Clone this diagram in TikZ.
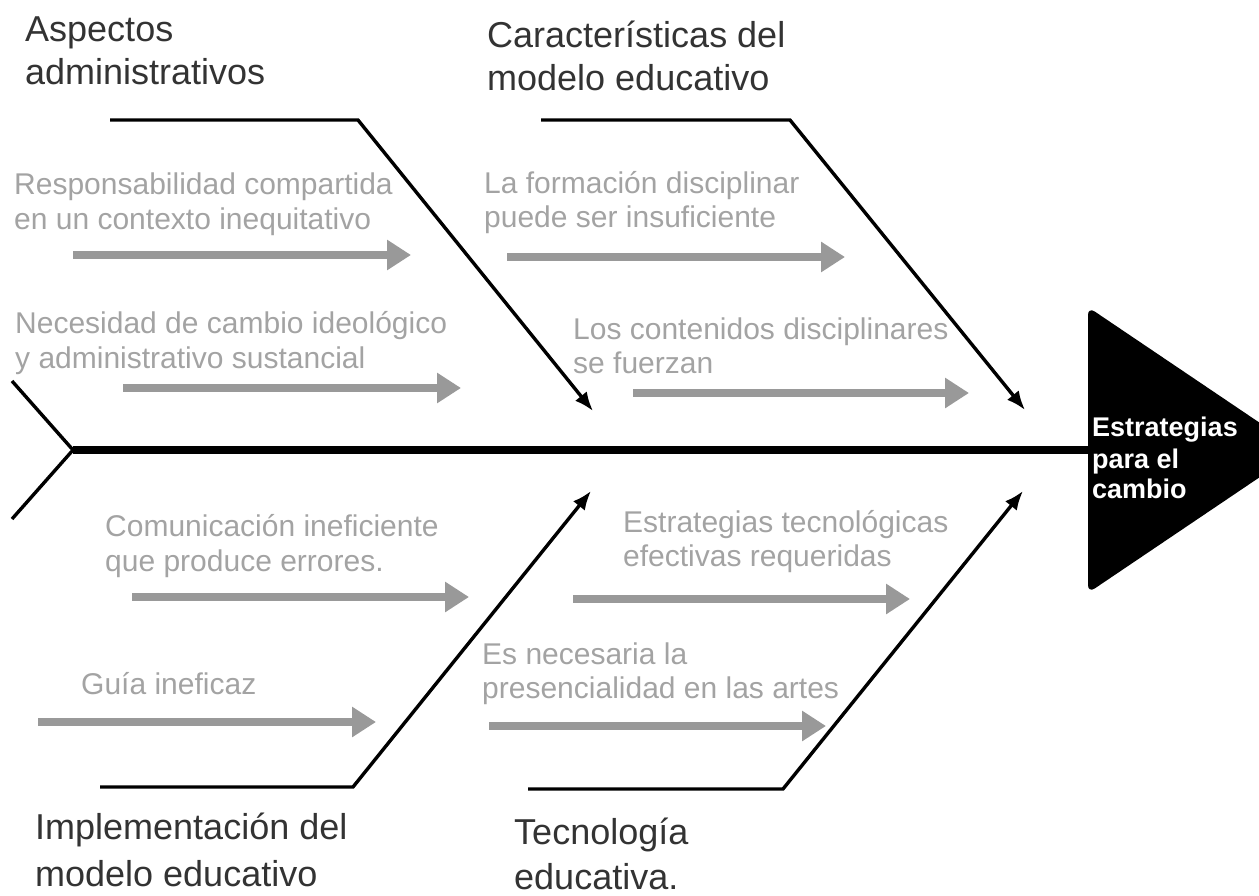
\documentclass[tikz,border=0pt]{standalone}
\usepackage{fontspec}
\setmainfont{Liberation Sans}
\usetikzlibrary{arrows.meta}
\definecolor{titlegrey}{HTML}{333333}
\definecolor{causegrey}{HTML}{A3A3A3}
\definecolor{arrowgrey}{HTML}{999999}
\begin{document}
\begin{tikzpicture}[x=1pt,y=-1pt,
  titletext/.style={font=\fontsize{36}{43}\selectfont, text=titlegrey, anchor=base west, inner sep=0pt},
  causetext/.style={font=\fontsize{30}{35}\selectfont, text=causegrey, anchor=base west, inner sep=0pt},
  headtext/.style={font=\bfseries\fontsize{27}{31}\selectfont, text=white, anchor=base west, inner sep=0pt},
  bone/.style={line width=3.4pt, -{Latex[length=19pt,width=15pt]}},
  subarrow/.style={draw=arrowgrey, line width=7.5pt, -{Triangle[length=24pt,width=29pt]}}]
\useasboundingbox (0,0) rectangle (1259,896);
\clip (0,0) rectangle (1259,896);

% head and spine
\fill[rounded corners=8pt] (1088,307) -- (1300,450) -- (1088,593) -- cycle;
\coordinate (tail) at (73,450);
\coordinate (tailtop) at (12,381);
\coordinate (tailbot) at (12,519);
\coordinate (headleft) at (1090,450);
\draw[line width=3.4pt] (tailtop) -- (tail) -- (tailbot);
\draw[line width=8pt] (tail) -- (headleft);

\node[headtext] (h1) at (1092,436) {Estrategias};
\node[headtext] (h2) at (1092,468) {para el};
\node[headtext] (h3) at (1092,498) {cambio};

% main bones
\coordinate (A0) at (110,120); \coordinate (A1) at (358,120); \coordinate (A2) at (593,411);
\coordinate (B0) at (541,120); \coordinate (B1) at (790,120); \coordinate (B2) at (1025,410);
\coordinate (C0) at (100,787); \coordinate (C1) at (353,787); \coordinate (C2) at (591,491);
\coordinate (D0) at (528,789); \coordinate (D1) at (783,789); \coordinate (D2) at (1023,491);
\draw[bone] (A0) -- (A1) -- (A2);
\draw[bone] (B0) -- (B1) -- (B2);
\draw[bone] (C0) -- (C1) -- (C2);
\draw[bone] (D0) -- (D1) -- (D2);

% titles
\node[titletext] (ta1) at (25,42) {Aspectos};
\node[titletext] (ta2) at (25,85) {administrativos};
\node[titletext] (tb1) at (487,48) {Características del};
\node[titletext] (tb2) at (487,91) {modelo educativo};
\node[titletext] (tc1) at (35,839) {Implementación del};
\node[titletext] (tc2) at (35,886) {modelo educativo};
\node[titletext] (td1) at (514,844) {Tecnología};
\node[titletext] (td2) at (514,889) {educativa.};

% causes
\node[causetext] (c1a) at (14,195) {Responsabilidad compartida};
\node[causetext] (c1b) at (14,230) {en un contexto inequitativo};
\node[causetext] (c2a) at (15,333) {Necesidad de cambio ideológico};
\node[causetext] (c2b) at (15,368) {y administrativo sustancial};
\node[causetext] (c3a) at (484,194) {La formación disciplinar};
\node[causetext] (c3b) at (484,228) {puede ser insuficiente};
\node[causetext] (c4a) at (573,339) {Los contenidos disciplinares};
\node[causetext] (c4b) at (573,373) {se fuerzan};
\node[causetext] (c5a) at (105,536) {Comunicación ineficiente};
\node[causetext] (c5b) at (105,571) {que produce errores.};
\node[causetext] (c6a) at (623,532) {Estrategias tecnológicas};
\node[causetext] (c6b) at (623,566) {efectivas requeridas};
\node[causetext] (c7a) at (81,694) {Guía ineficaz};
\node[causetext] (c8a) at (482,664) {Es necesaria la};
\node[causetext] (c8b) at (482,698) {presencialidad en las artes};

% grey arrows
\coordinate (g1s) at (73,255);  \coordinate (g1e) at (411,255);
\coordinate (g2s) at (123,388); \coordinate (g2e) at (461,388);
\coordinate (g3s) at (507,257); \coordinate (g3e) at (845,257);
\coordinate (g4s) at (633,393); \coordinate (g4e) at (969,393);
\coordinate (g5s) at (132,597); \coordinate (g5e) at (469,597);
\coordinate (g6s) at (573,599); \coordinate (g6e) at (910,599);
\coordinate (g7s) at (38,722);  \coordinate (g7e) at (376,722);
\coordinate (g8s) at (489,726); \coordinate (g8e) at (826,726);
\foreach \i in {1,...,8} {\draw[subarrow] (g\i s) -- (g\i e);}
\end{tikzpicture}
\end{document}
